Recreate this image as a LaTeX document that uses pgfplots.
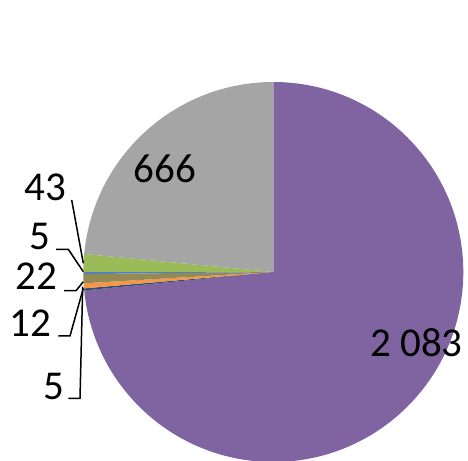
\documentclass[border=0pt]{standalone}
\usepackage{pgfplots}
\pgfplotsset{compat=1.18}
\usepackage{pgfplotstable}
\usepackage{fontspec}
\setmainfont{Carlito}

\definecolor{cPurple}{HTML}{8064A2}
\definecolor{cDarkBlue}{HTML}{2C4D75}
\definecolor{cOrange}{HTML}{F79646}
\definecolor{cOlive}{HTML}{948A54}
\definecolor{cBlue}{HTML}{4F81BD}
\definecolor{cGreen}{HTML}{9BBB59}
\definecolor{cGray}{HTML}{A5A5A5}

\pgfplotstableread{
value color
2083 cPurple
5 cDarkBlue
12 cOrange
22 cOlive
5 cBlue
43 cGreen
666 cGray
}\pietable

\begin{document}
\begin{tikzpicture}
\begin{axis}[x=1pt, y=1pt, xmin=0, xmax=468, ymin=0, ymax=460,
  scale only axis, disabledatascaling, clip=true,
  axis line style={draw=none}, ticks=none]
\addplot[draw=none] coordinates {(0,0) (468,460)};
% total
\pgfplotstablegetrowsof{\pietable}
\pgfmathtruncatemacro{\N}{\pgfplotsretval-1}
\def\total{0}
\pgfplotsforeachungrouped \i in {0,...,\N}{%
  \pgfplotstablegetelem{\i}{value}\of\pietable
  \pgfmathsetmacro{\total}{\total+\pgfplotsretval}%
}
\def\cum{0}
\pgfplotsforeachungrouped \i in {0,...,\N}{%
  \pgfplotstablegetelem{\i}{value}\of\pietable \let\v\pgfplotsretval
  \pgfplotstablegetelem{\i}{color}\of\pietable \let\c\pgfplotsretval
  \pgfmathsetmacro{\a}{90-360*(\cum/\total)}%
  \pgfmathsetmacro{\b}{90-360*((\cum+\v)/\total)}%
  \edef\temp{\noexpand\fill[\c] (axis cs:273.3,188) -- ([shift={(\a:190pt)}]axis cs:273.3,188) arc[start angle=\a, end angle=\b, radius=190pt] -- cycle;}%
  \temp
  \pgfmathsetmacro{\cum}{\cum+\v}%
}
% leader lines
\addplot[black, line width=1.5pt] coordinates {(71.7,260) (83.3,196.7)};
\addplot[black, line width=1.5pt] coordinates {(56,210.7) (68.3,210.7) (83.3,188.3)};
\addplot[black, line width=1.5pt] coordinates {(64,169.3) (76,169.3) (83.3,178.3)};
\addplot[black, line width=1.5pt] coordinates {(58.3,124) (70,124) (83.3,171.7)};
\addplot[black, line width=1.5pt] coordinates {(68.3,61.7) (80,61.7) (82.7,173.3)};
% labels
\begin{scope}[every node/.style={font=\fontsize{41}{41}\selectfont, inner sep=0pt}]
\node at (axis cs:416.5,117.5) {2 083};
\node at (axis cs:165,291.5) {666};
\node at (axis cs:45,272.5) {43};
\node at (axis cs:39.5,224) {5};
\node at (axis cs:36.5,183.5) {22};
\node at (axis cs:30,136.5) {12};
\node at (axis cs:53.5,73.5) {5};
\end{scope}
\end{axis}
\end{tikzpicture}
\end{document}
